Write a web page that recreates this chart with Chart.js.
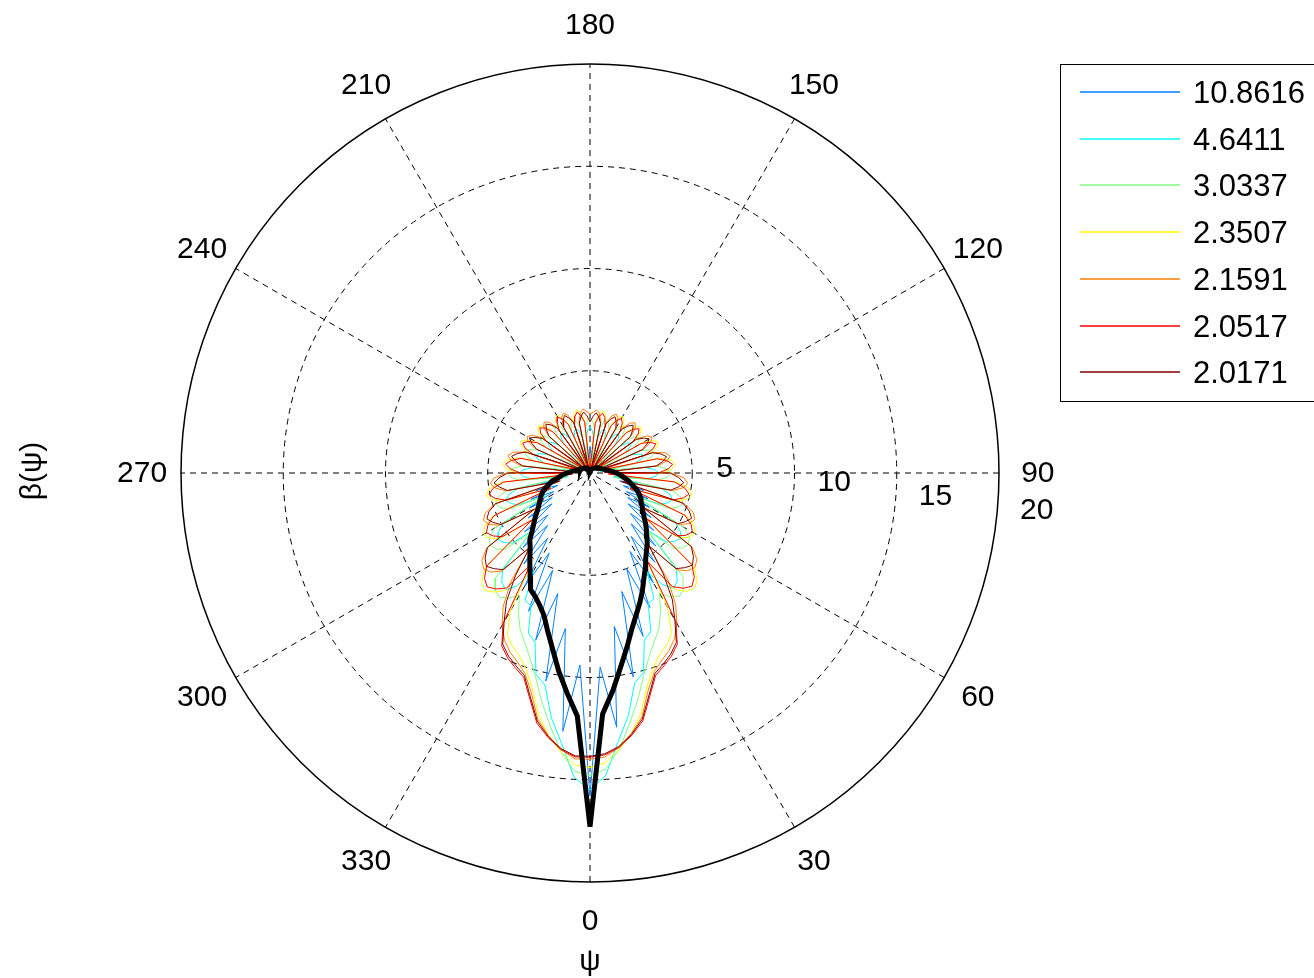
<!DOCTYPE html>
<html>
<head>
<meta charset="utf-8">
<script src="https://cdn.jsdelivr.net/npm/chart.js@4.4.1/dist/chart.umd.min.js"></script>
<style>
html,body{margin:0;padding:0;background:#ffffff;}
canvas{display:block;}
</style>
</head>
<body>
<canvas id="c" width="1314" height="978"></canvas>
<script>
// ---- angles psi (degrees), 0 at bottom, 90 at right ----
const psi = [0,3,6,9,12,15,18,21,24,27,30,33,36,39,42,45,48,51,54,57,
 60,63,66,69,72,75,78,81,84,87,90,93,96,99,102,105,108,111,114,117,
 120,123,126,129,132,135,138,141,144,147,150,153,156,159,162,165,168,171,174,177,
 180,183,186,189,192,195,198,201,204,207,210,213,216,219,222,225,228,231,234,237,
 240,243,246,249,252,255,258,261,264,267,270,273,276,279,282,285,288,291,294,297,
 300,303,306,309,312,315,318,321,324,327,330,333,336,339,342,345,348,351,354,357];

const seriesLabels = ['10.8616','4.6411','3.0337','2.3507','2.1591','2.0517','2.0171'];
const seriesColors = ['#0080ff','#00ffff','#80ff80','#ffff00','#ff8000','#ff0000','#800000'];

const beta_10_8616 = [
 15.8,9.5,12.5,7.6,10.2,6.0,8.4,5.0,7.2,4.3, 6.2,3.7,5.4,3.2,4.8,2.8,4.2,2.4,3.7,2.2,
 3.35,2.0,3.1,1.75,2.75,1.5,2.4,1.2,2.1,0.95, 1.9,0.7,1.7,0.5,1.6,0.4,1.5,0.35,1.5,0.3,
 1.45,0.3,1.4,0.3,1.4,0.3,1.35,0.3,1.35,0.3, 1.3,0.3,1.3,0.3,1.3,0.3,1.3,0.3,1.3,0.3,
 1.3,
 0.3,1.3,0.3,1.35,0.3,1.3,0.3,1.35,0.3,1.35, 0.3,1.4,0.3,1.4,0.3,1.45,0.3,1.45,0.3,1.5,
 0.3,1.55,0.35,1.55,0.4,1.65,0.5,1.75,0.7,1.95, 0.9,2.15,1.15,2.45,1.5,2.8,1.7,3.15,2.0,3.4,
 2.2,3.75,2.4,4.3,2.9,4.9,3.3,5.5,3.8,6.4, 4.4,7.4,5.1,8.6,6.1,10.4,7.7,12.7,9.4];

const beta_4_6411 = [
 15.5,14.8,13.2,12.0,10.5,10.1,8.6,8.3,7.0,6.9, 5.6,6.5,6.97,6.78,6.29,3.9,5.04,5.31,5.47,5.28,
 4.8,2.5,3.76,4.07,4.25,4.04,3.54,1.15,2.79,3.19, 3.39,3.17,2.69,0.5,2.21,2.59,2.78,2.59,2.17,0.35,
 1.96,2.32,2.49,2.32,1.96,0.35,1.86,2.21,2.37,2.21, 1.86,0.32,1.77,2.1,2.26,2.1,1.77,0.3,1.75,2.08,
 2.25,
 2.1,1.78,0.3,1.8,2.14,2.3,2.14,1.8,0.32,1.9, 2.25,2.42,2.25,1.9,0.35,2.0,2.37,2.54,2.37,2.0,
 0.35,2.22,2.65,2.84,2.65,2.26,0.5,2.75,3.24,3.46, 3.26,2.85,1.1,3.6,4.12,4.33,4.15,3.83,2.45,4.9,
 5.36,5.55,5.4,5.12,4.0,6.38,6.86,7.05,6.6,5.5, 7.0,7.1,8.4,8.7,10.2,10.6,12.1,13.3,14.9];

const beta_3_0337 = [
 14.8,14.5,13.6,12.4,11.3,10.2,9.4,8.8,8.3,7.6, 6.8,7.2,7.44,7.3,6.8,4.0,5.5,5.82,5.94,5.8,
 5.31,2.55,4.28,4.64,4.78,4.62,4.1,1.2,3.36,3.8, 3.95,3.79,3.28,0.55,2.73,3.15,3.29,3.14,2.7,0.35,
 2.42,2.81,2.94,2.81,2.42,0.35,2.31,2.69,2.81,2.69, 2.31,0.32,2.21,2.56,2.68,2.56,2.2,0.3,2.18,2.53,
 2.65,
 2.55,2.2,0.3,2.25,2.6,2.72,2.6,2.25,0.32,2.35, 2.73,2.86,2.73,2.35,0.35,2.47,2.86,3.0,2.86,2.47,
 0.35,2.76,3.2,3.36,3.21,2.8,0.55,3.35,3.86,4.03, 3.88,3.43,1.15,4.18,4.7,4.86,4.72,4.35,2.5,5.4,
 5.88,6.02,5.9,5.58,4.1,6.9,7.38,7.5,7.3,6.9, 7.7,8.4,8.9,9.5,10.3,11.4,12.5,13.7,14.6];

const beta_2_3507 = [
 14.4,14.2,13.6,12.9,12.0,10.8,10.0,9.5,9.2,8.8, 7.6,5.1,7.04,7.45,7.6,7.42,6.83,3.5,5.38,5.76,
 5.9,5.73,5.18,2.05,4.44,4.93,5.1,4.91,4.28,0.9, 3.52,4.03,4.2,4.02,3.46,0.45,3.0,3.49,3.65,3.49,
 2.99,0.35,2.75,3.2,3.35,3.2,2.75,0.33,2.63,3.06, 3.2,3.06,2.62,0.32,2.54,2.96,3.1,2.96,2.54,0.3,
 0.3,
 0.3,2.6,3.0,3.15,3.0,2.6,0.32,2.65,3.1,3.25, 3.1,2.65,0.33,2.8,3.25,3.4,3.25,2.8,0.35,3.05,
 3.55,3.75,3.55,3.05,0.45,3.55,4.1,4.3,4.1,3.6, 0.85,4.35,5.0,5.2,5.0,4.5,2.0,5.25,5.8,6.0,
 5.85,5.45,3.6,6.9,7.5,7.7,7.5,7.1,5.3,7.8, 8.9,9.3,9.6,10.1,10.9,12.1,13.0,13.7,14.3];

const beta_2_1591 = [
 14.0,13.9,13.5,12.9,12.2,11.0,10.2,9.8,9.5,9.1, 8.5,7.7,6.5,4.55,6.37,6.76,6.9,6.73,6.18,3.1,
 5.04,5.45,5.6,5.42,4.84,1.6,4.12,4.62,4.8,4.61, 4.0,0.7,3.32,3.83,4.0,3.82,3.28,0.35,2.87,3.34,
 3.5,3.34,2.87,0.35,2.71,3.15,3.3,3.15,2.71,0.33, 2.58,3.01,3.15,3.0,2.58,0.3,2.54,2.96,3.1,2.96,
 2.9,
 3.0,3.15,3.0,2.6,0.3,2.62,3.05,3.2,3.05,2.62, 0.33,2.75,3.2,3.35,3.2,2.75,0.35,2.95,3.4,3.55,
 3.4,2.95,0.35,3.35,3.9,4.1,3.9,3.4,0.7,4.1, 4.7,4.9,4.7,4.2,1.55,4.9,5.5,5.7,5.55,5.1,
 3.2,6.25,6.8,7.0,6.85,6.45,4.65,6.6,7.8,8.6, 9.2,9.6,9.9,10.3,11.1,12.3,13.0,13.6,14.0];

const beta_2_0517 = [
 13.9,13.8,13.5,13.0,12.4,11.3,10.4,10.1,9.8,9.4, 8.4,5.2,6.87,7.25,7.45,7.21,6.71,3.55,5.23,5.59,
 5.78,5.55,5.08,2.1,4.26,4.72,4.95,4.69,4.16,0.9, 3.34,3.82,4.06,3.81,3.35,0.45,2.83,3.3,3.52,3.3,
 2.89,0.35,2.6,3.03,3.23,3.03,2.65,0.33,2.48,2.89, 3.08,2.89,2.53,0.32,2.4,2.8,2.99,2.8,2.45,0.3,
 0.3,
 0.3,2.5,2.85,3.05,2.85,2.45,0.32,2.6,2.95,3.15, 2.95,2.55,0.33,2.7,3.1,3.3,3.1,2.65,0.35,2.95,
 3.4,3.6,3.4,2.9,0.45,3.45,3.9,4.15,3.9,3.4, 0.85,4.25,4.8,5.05,4.8,4.3,2.05,5.15,5.6,5.85,
 5.65,5.3,3.65,6.8,7.3,7.5,7.3,6.95,5.4,8.5, 9.5,9.9,10.2,10.5,11.4,12.5,13.1,13.6,13.9];

const beta_2_0171 = [
 13.85,13.75,13.45,12.95,12.3,11.2,10.3,10.0,9.7,9.3, 8.3,7.4,6.1,4.6,6.29,6.55,6.74,6.51,6.12,3.15,
 4.96,5.24,5.44,5.2,4.78,1.6,4.03,4.37,4.61,4.35, 3.92,0.7,3.25,3.6,3.83,3.59,3.21,0.35,2.8,3.13,
 3.34,3.13,2.8,0.35,2.65,2.95,3.15,2.95,2.64,0.33, 2.53,2.82,3.01,2.82,2.52,0.3,2.48,2.77,2.96,2.77,
 2.5,
 2.8,3.0,2.8,2.5,0.3,2.58,2.88,3.08,2.88,2.58, 0.33,2.7,3.02,3.22,3.02,2.7,0.35,2.86,3.2,3.42,
 3.2,2.86,0.35,3.3,3.68,3.92,3.68,3.32,0.7,4.02, 4.45,4.72,4.46,4.12,1.55,4.86,5.3,5.52,5.32,5.04,
 3.25,6.2,6.6,6.82,6.62,6.36,4.7,6.2,7.5,8.4, 9.4,9.8,10.1,10.4,11.3,12.4,13.05,13.55,13.85];

// thick black curve
const beta_mean = [
 17.3,11.8,10.7,9.6,8.7,7.9,7.3,6.8,6.3,5.8, 5.4,5.0,4.7,4.45,4.15,3.9,3.65,3.4,3.2,3.05,
 2.9,2.8,2.65,2.5,2.3,2.1,1.95,1.75,1.6,1.45, 1.3,1.15,1.0,0.9,0.8,0.7,0.65,0.6,0.55,0.5,
 0.48,0.45,0.42,0.4,0.37,0.35,0.33,0.3,0.28,0.26, 0.25,0.23,0.21,0.2,0.18,0.16,0.15,0.13,0.12,0.1,
 0.1,
 0.1,0.11,0.12,0.14,0.15,0.17,0.19,0.2,0.22,0.24, 0.26,0.28,0.3,0.32,0.34,0.36,0.38,0.4,0.42,0.45,
 0.47,0.5,0.5,0.55,0.6,0.65,0.75,0.85,0.95,1.12, 1.3,1.45,1.6,1.9,2.05,2.25,2.45,2.6,2.72,2.85,
 3.0,3.2,3.45,3.7,4.0,4.4,4.65,5.0,5.4,5.85, 6.4,6.6,6.9,7.3,8.0,8.8,9.8,10.8,11.9];

const angleTicks = [0,30,60,90,120,150,180,210,240,270,300,330];
const radiusTicks = [5,10,15,20];
const gridRings = [5,10,15];
const rMax = 20;

const colouredSeries = [beta_10_8616, beta_4_6411, beta_3_0337, beta_2_3507, beta_2_1591, beta_2_0517, beta_2_0171];

function toPoints(values){
  const pts = values.map((r,i)=>{
    const a = psi[i]*Math.PI/180;
    return {x: r*Math.sin(a), y: -r*Math.cos(a)};
  });
  pts.push(pts[0]);
  return pts;
}

const datasets = colouredSeries.map((vals,k)=>({
  label: seriesLabels[k],
  data: toPoints(vals),
  showLine: true,
  borderColor: seriesColors[k],
  backgroundColor: seriesColors[k],
  borderWidth: 1,
  pointRadius: 0,
  fill: false,
  tension: 0,
  order: 7-k
}));
datasets.push({
  label: 'mean',
  data: toPoints(beta_mean),
  showLine: true,
  borderColor: '#000000',
  borderWidth: 5,
  pointRadius: 0,
  fill: false,
  tension: 0,
  order: 0
});

const FONT = '30px "Liberation Sans", Arial, Helvetica, sans-serif';
const LEGEND_FONT = '31px "Liberation Sans", Arial, Helvetica, sans-serif';

const polarGrid = {
  id: 'polarGrid',
  beforeDatasetsDraw(chart){
    const {ctx, scales:{x, y}} = chart;
    const cx = x.getPixelForValue(0), cy = y.getPixelForValue(0);
    const rp = r => x.getPixelForValue(r) - cx;
    ctx.save();
    ctx.strokeStyle = '#000000';
    ctx.lineWidth = 1;
    ctx.setLineDash([6,5]);
    gridRings.forEach(r=>{
      ctx.beginPath();
      ctx.arc(cx, cy, rp(r), 0, Math.PI*2);
      ctx.stroke();
    });
    for (let a=0; a<180; a+=30){
      const t = a*Math.PI/180;
      ctx.beginPath();
      ctx.moveTo(x.getPixelForValue(rMax*Math.sin(t)), y.getPixelForValue(-rMax*Math.cos(t)));
      ctx.lineTo(x.getPixelForValue(-rMax*Math.sin(t)), y.getPixelForValue(rMax*Math.cos(t)));
      ctx.stroke();
    }
    ctx.setLineDash([]);
    ctx.strokeStyle = '#000';
    ctx.lineWidth = 1.5;
    ctx.beginPath();
    ctx.arc(cx, cy, rp(rMax), 0, Math.PI*2);
    ctx.stroke();
    ctx.restore();
  },
  afterDraw(chart){
    const {ctx, scales:{x, y}} = chart;
    const cx = x.getPixelForValue(0), cy = y.getPixelForValue(0);
    ctx.save();
    ctx.fillStyle = '#000';
    ctx.font = FONT;
    ctx.textAlign = 'center';
    ctx.textBaseline = 'middle';
    const rl = 21.9;
    angleTicks.forEach(a=>{
      const t = a*Math.PI/180;
      ctx.fillText(String(a), x.getPixelForValue(rl*Math.sin(t)), y.getPixelForValue(-rl*Math.cos(t)) + 1);
    });
    // radius tick labels along 82 deg
    ctx.textAlign = 'left';
    ctx.textBaseline = 'alphabetic';
    const t82 = 82*Math.PI/180;
    radiusTicks.forEach(r=>{
      const px = x.getPixelForValue(r*Math.sin(t82));
      const py = y.getPixelForValue(-r*Math.cos(t82));
      ctx.fillText(String(r), px + 25, py - 10.5);
    });
    // axis titles
    ctx.textAlign = 'center';
    ctx.textBaseline = 'middle';
    ctx.fillText('\u03c8', cx, 962);
    ctx.save();
    ctx.translate(33, cy - 2);
    ctx.rotate(-Math.PI/2);
    ctx.fillText('\u03b2(\u03c8)', 0, 0);
    ctx.restore();

    // legend
    ctx.lineWidth = 1;
    ctx.strokeStyle = '#000';
    ctx.fillStyle = '#fff';
    ctx.fillRect(1061, 64, 300, 338);
    ctx.strokeRect(1060.5, 64.5, 300, 337);
    ctx.fillStyle = '#000';
    ctx.font = LEGEND_FONT;
    ctx.textAlign = 'left';
    ctx.textBaseline = 'middle';
    seriesLabels.forEach((lab,k)=>{
      const yy = Math.round(92 + k*46.7);
      ctx.strokeStyle = seriesColors[k];
      ctx.lineWidth = 1.4;
      ctx.beginPath();
      ctx.moveTo(1080, yy);
      ctx.lineTo(1180, yy);
      ctx.stroke();
      ctx.fillText(lab, 1193, yy + 2);
    });
    const all = colouredSeries.concat([beta_mean]);
    all.forEach((s,k)=>{
      if (s.length !== psi.length){
        ctx.fillStyle = 'red';
        ctx.fillText('len mismatch ' + k + ': ' + s.length, 20, 30 + k*30);
      }
    });
    ctx.restore();
  }
};

new Chart(document.getElementById('c'), {
  type: 'scatter',
  data: { datasets },
  options: {
    responsive: false,
    animation: false,
    devicePixelRatio: 1,
    layout: { padding: { left: 181, right: 315, top: 64, bottom: 96 } },
    scales: {
      x: { type: 'linear', min: -20, max: 20, display: false },
      y: { type: 'linear', min: -20, max: 20, display: false }
    },
    plugins: { legend: { display: false }, tooltip: { enabled: false } },
    elements: { point: { radius: 0 }, line: { tension: 0 } }
  },
  plugins: [polarGrid]
});
</script>
</body>
</html>
